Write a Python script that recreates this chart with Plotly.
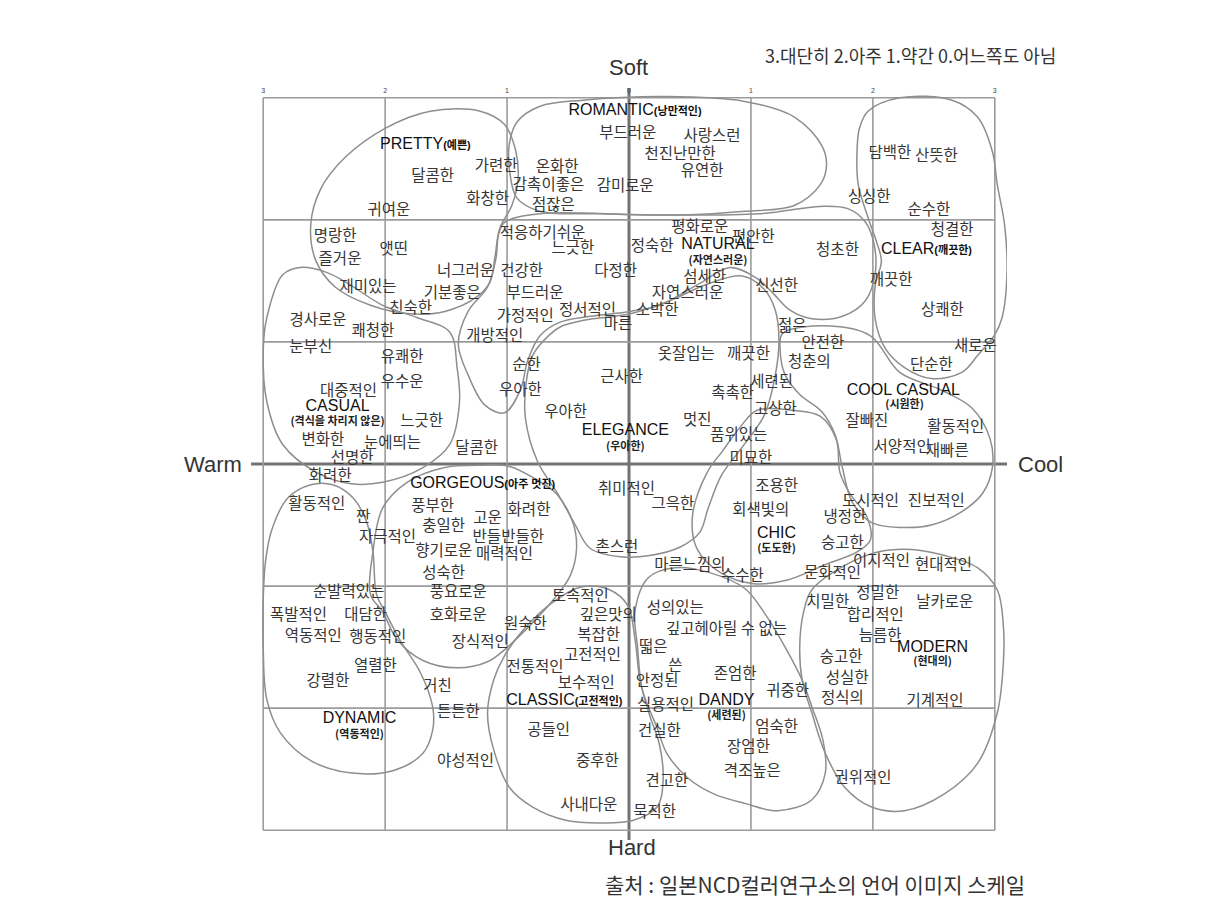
import plotly.graph_objects as go

# ---------------- axis ticks ----------------
tick_vals = [-3, -2, -1, 0, 1, 2, 3]
tick_text = ["3", "2", "1", "0", "1", "2", "3"]

# ---------------- words (text, warm(-)/cool(+), hard(-)/soft(+)) ----------------
words_pretty = [
    ("달콤한", -1.61, 2.35), ("가련한", -1.09, 2.43), ("화창한", -1.16, 2.16),
    ("귀여운", -1.97, 2.07), ("명랑한", -2.41, 1.86), ("앳띤", -1.93, 1.75),
    ("즐거운", -2.37, 1.67), ("너그러운", -1.34, 1.57), ("재미있는", -2.14, 1.44),
    ("기분좋은", -1.45, 1.39), ("친숙한", -1.79, 1.27), ("경사로운", -2.55, 1.17),
    ("쾌청한", -2.10, 1.08), ("눈부신", -2.61, 0.95),
]
words_romantic = [
    ("부드러운", -0.01, 2.70), ("사랑스런", 0.68, 2.68), ("천진난만한", 0.42, 2.53),
    ("유연한", 0.60, 2.39), ("온화한", -0.59, 2.42), ("감촉이좋은", -0.66, 2.28),
    ("감미로운", -0.03, 2.27), ("점잖은", -0.62, 2.11),
]
words_natural = [
    ("적응하기쉬운", -0.71, 1.88), ("느긋한", -0.46, 1.76), ("정숙한", 0.19, 1.78),
    ("평화로운", 0.58, 1.93), ("편안한", 1.02, 1.85), ("건강한", -0.88, 1.57),
    ("다정한", -0.11, 1.57), ("섬세한", 0.62, 1.52), ("부드러운", -0.77, 1.39),
    ("자연스러운", 0.48, 1.39), ("정서적인", -0.34, 1.25), ("소박한", 0.23, 1.25),
    ("가정적인", -0.85, 1.20), ("마른", -0.09, 1.14), ("개방적인", -1.10, 1.04),
    ("청초한", 1.71, 1.74), ("신선한", 1.21, 1.45), ("젊은", 1.34, 1.12),
]
words_clear = [
    ("담백한", 2.14, 2.54), ("산뜻한", 2.52, 2.51), ("싱싱한", 1.97, 2.18),
    ("순수한", 2.46, 2.07), ("청결한", 2.65, 1.91), ("깨끗한", 2.15, 1.50),
    ("상쾌한", 2.57, 1.25), ("새로운", 2.84, 0.96), ("단순한", 2.48, 0.80),
]
words_casual = [
    ("유쾌한", -1.86, 0.87), ("대중적인", -2.30, 0.59), ("우수운", -1.86, 0.66),
    ("느긋한", -1.70, 0.34), ("변화한", -2.51, 0.19), ("눈에띄는", -1.94, 0.16),
    ("달콤한", -1.25, 0.12), ("선명한", -2.27, 0.04), ("화려한", -2.45, -0.11),
]
words_gorgeous = [
    ("활동적인", -2.56, -0.34), ("짠", -2.18, -0.44), ("풍부한", -1.61, -0.35),
    ("충일한", -1.52, -0.52), ("고운", -1.16, -0.45), ("화려한", -0.82, -0.39),
    ("자극적인", -1.98, -0.61), ("반들반들한", -0.99, -0.61), ("향기로운", -1.52, -0.72),
    ("매력적인", -1.02, -0.75), ("성숙한", -1.52, -0.90),
]
words_elegance = [
    ("순한", -0.84, 0.80), ("우아한", -0.89, 0.60), ("우아한", -0.52, 0.42),
    ("근사한", -0.06, 0.70), ("옷잘입는", 0.47, 0.89), ("깨끗한", 0.98, 0.89),
    ("멋진", 0.56, 0.35), ("촉촉한", 0.85, 0.57), ("품위있는", 0.90, 0.23),
    ("미묘한", 1.00, 0.04), ("취미적인", -0.02, -0.21), ("그윽한", 0.36, -0.34),
    ("촌스런", -0.10, -0.69), ("마른느낌의", 0.50, -0.84), ("수수한", 0.93, -0.93),
]
words_coolcasual = [
    ("안전한", 1.59, 0.98), ("청춘의", 1.48, 0.83), ("세련된", 1.17, 0.66),
    ("고상한", 1.20, 0.44), ("잘빠진", 1.95, 0.34), ("활동적인", 2.68, 0.29),
    ("서양적인", 2.24, 0.13), ("재빠른", 2.61, 0.10),
]
words_chic = [
    ("조용한", 1.21, -0.19), ("도시적인", 1.98, -0.31), ("진보적인", 2.52, -0.31),
    ("회색빛의", 1.08, -0.39), ("냉정한", 1.77, -0.44), ("숭고한", 1.75, -0.66),
    ("이지적인", 2.07, -0.80), ("현대적인", 2.58, -0.84), ("문화적인", 1.67, -0.90),
]
words_dynamic = [
    ("순발력있는", -2.30, -1.06), ("풍요로운", -1.40, -1.06), ("폭발적인", -2.71, -1.25),
    ("대담한", -2.16, -1.25), ("호화로운", -1.40, -1.25), ("역동적인", -2.59, -1.42),
    ("행동적인", -2.06, -1.43), ("장식적인", -1.22, -1.47), ("열렬한", -2.08, -1.66),
    ("강렬한", -2.47, -1.79), ("거친", -1.57, -1.83), ("튼튼한", -1.40, -2.04),
    ("야성적인", -1.34, -2.44),
]
words_classic = [
    ("토속적인", -0.40, -1.09), ("원숙한", -0.85, -1.32), ("깊은맛의", -0.17, -1.25),
    ("복잡한", -0.25, -1.41), ("고전적인", -0.30, -1.57), ("전통적인", -0.77, -1.67),
    ("보수적인", -0.35, -1.80), ("공들인", -0.66, -2.19), ("중후한", -0.26, -2.44),
    ("사내다운", -0.33, -2.80), ("묵직한", 0.21, -2.86), ("견고한", 0.31, -2.61),
]
words_dandy = [
    ("성의있는", 0.38, -1.19), ("깊고헤아릴 수 없는", 0.80, -1.36), ("떫은", 0.20, -1.51),
    ("쓴", 0.38, -1.66), ("존엄한", 0.87, -1.73), ("안정된", 0.23, -1.79),
    ("실용적인", 0.30, -1.98), ("건실한", 0.25, -2.20), ("장엄한", 0.98, -2.33),
    ("격조높은", 1.01, -2.52), ("엄숙한", 1.21, -2.16), ("귀중한", 1.30, -1.87),
]
words_modern = [
    ("치밀한", 1.63, -1.14), ("정밀한", 2.04, -1.07), ("날카로운", 2.59, -1.14),
    ("합리적인", 2.02, -1.25), ("늠름한", 2.06, -1.42), ("숭고한", 1.74, -1.59),
    ("성실한", 1.79, -1.76), ("정식의", 1.75, -1.93), ("기계적인", 2.51, -1.95),
    ("권위적인", 1.92, -2.58),
]

# ---------------- category labels ----------------
cat_inline = [
    ("PRETTY", "(예쁜)", -1.67, 2.61),
    ("ROMANTIC", "(낭만적인)", 0.05, 2.89),
    ("CLEAR", "(깨끗한)", 2.44, 1.75),
    ("GORGEOUS", "(아주 멋진)", -1.20, -0.16),
    ("CLASSIC", "(고전적인)", -0.53, -1.94),
]
cat_stacked = [
    ("NATURAL", 0.73, 1.79), ("CASUAL", -2.39, 0.47), ("ELEGANCE", -0.03, 0.27),
    ("COOL CASUAL", 2.25, 0.60), ("CHIC", 1.21, -0.57), ("MODERN", 2.49, -1.51),
    ("DANDY", 0.80, -1.94), ("DYNAMIC", -2.21, -2.09),
]
cat_sub = [
    ("(자연스러운)", 0.73, 1.66), ("(격식을 차리지 않은)", -2.39, 0.34), ("(우아한)", -0.03, 0.14),
    ("(시원한)", 2.26, 0.48), ("(도도한)", 1.21, -0.70), ("(현대의)", 2.49, -1.62),
    ("(세련된)", 0.80, -2.07), ("(역동적인)", -2.21, -2.22),
]

# ---------------- group outlines ----------------
blob_pretty_x = [-1.22, -1.63, -2.00, -2.33, -2.53, -2.61, -2.57, -2.41, -2.12, -1.80,
                 -1.51, -1.26, -1.14, -1.10, -1.06, -0.96, -0.91, -0.93, -1.02]
blob_pretty_y = [2.89, 2.89, 2.75, 2.51, 2.25, 1.96, 1.67, 1.45, 1.30, 1.23,
                 1.25, 1.36, 1.49, 1.69, 1.93, 2.12, 2.33, 2.57, 2.78]
blob_romantic_x = [-0.92, -0.73, -0.38, 0.31, 0.95, 1.36, 1.58, 1.62, 1.57, 1.36,
                   0.95, 0.42, -0.24, -0.73, -0.92, -0.98, -0.98]
blob_romantic_y = [2.80, 2.93, 2.98, 3.01, 2.97, 2.84, 2.61, 2.45, 2.29, 2.12,
                   2.07, 2.04, 2.05, 2.07, 2.18, 2.41, 2.63]
blob_clear_x = [1.96, 2.22, 2.65, 2.86, 2.98, 3.02, 3.08, 3.10, 3.06, 3.00, 2.86, 2.73,
                2.48, 2.26, 2.10, 2.02, 2.02, 2.07, 2.03, 1.96, 1.88, 1.87, 1.89]
blob_clear_y = [2.89, 3.00, 2.98, 2.84, 2.56, 2.29, 1.96, 1.57, 1.20, 1.06, 0.89, 0.75,
                0.70, 0.79, 0.95, 1.18, 1.47, 1.66, 1.82, 2.02, 2.29, 2.56, 2.75]
blob_natural_x = [-1.02, -0.73, 0.17, 1.07, 1.57, 1.80, 1.94, 2.01, 2.02, 1.94, 1.75, 1.50,
                  1.32, 1.18, 1.05, 0.83, 0.58, 0.25, 0.01, -0.32, -0.57, -0.73, -0.83,
                  -0.89, -1.02, -1.18, -1.32, -1.40, -1.32, -1.16, -1.09, -1.07]
blob_natural_y = [1.98, 2.05, 2.04, 2.05, 2.11, 2.09, 1.98, 1.80, 1.57, 1.34, 1.21, 1.19,
                  1.26, 1.40, 1.52, 1.61, 1.48, 1.30, 1.25, 1.21, 1.16, 1.05, 0.85,
                  0.61, 0.42, 0.48, 0.73, 0.98, 1.25, 1.45, 1.69, 1.88]
blob_elegance_x = [-0.65, -0.79, -0.84, -0.85, -0.75, -0.58, -0.44, -0.32, -0.07, 0.17,
                   0.42, 0.58, 0.65, 0.76, 0.93, 1.11, 1.20, 1.23, 1.20, 1.11, 0.93,
                   0.66, 0.34, 0.01, -0.36, -0.55]
blob_elegance_y = [1.06, 0.89, 0.69, 0.38, 0.02, -0.25, -0.50, -0.69, -0.76, -0.75,
                   -0.68, -0.56, -0.36, -0.09, 0.14, 0.40, 0.73, 1.02, 1.26, 1.43, 1.54,
                   1.48, 1.34, 1.23, 1.18, 1.13]
blob_casual_x = [-2.97, -2.84, -2.70, -2.48, -2.29, -2.02, -1.74, -1.47, -1.41, -1.39,
                 -1.47, -1.69, -2.02, -2.29, -2.56, -2.84, -2.97, -3.00]
blob_casual_y = [1.20, 1.55, 1.61, 1.57, 1.47, 1.30, 1.20, 1.08, 0.79, 0.51,
                 0.16, -0.03, -0.15, -0.16, -0.07, 0.16, 0.51, 0.92]
blob_gorgeous_x = [-2.12, -2.10, -2.02, -1.82, -1.52, -1.20, -0.98, -0.79, -0.59, -0.46,
                   -0.43, -0.48, -0.61, -0.81, -1.02, -1.16, -1.41, -1.69, -1.90, -2.02]
blob_gorgeous_y = [-1.07, -0.72, -0.36, -0.15, -0.03, -0.01, -0.02, -0.11, -0.25, -0.48,
                   -0.69, -0.91, -1.10, -1.32, -1.52, -1.62, -1.67, -1.61, -1.44, -1.21]
blob_classic_x = [-0.40, -0.16, -0.01, 0.05, 0.09, 0.17, 0.25, 0.28, 0.23, 0.03,
                  -0.24, -0.51, -0.79, -0.98, -1.11, -1.16, -1.11, -1.02, -0.85, -0.62]
blob_classic_y = [-1.01, -1.03, -1.16, -1.44, -1.77, -2.06, -2.30, -2.59, -2.81, -2.92,
                  -2.94, -2.92, -2.81, -2.65, -2.34, -2.04, -1.77, -1.57, -1.34, -1.13]
blob_dandy_x = [0.16, 0.38, 0.66, 0.95, 1.11, 1.28, 1.42, 1.50, 1.59, 1.61,
                1.50, 1.22, 0.95, 0.69, 0.48, 0.31, 0.23, 0.11, 0.07, 0.05]
blob_dandy_y = [-0.93, -0.85, -0.89, -1.02, -1.22, -1.50, -1.77, -1.99, -2.26, -2.53,
                -2.75, -2.84, -2.78, -2.70, -2.57, -2.37, -2.16, -1.85, -1.50, -1.20]
blob_chic_x = [1.05, 1.34, 1.57, 1.70, 1.73, 1.81, 1.95, 1.98, 1.87, 1.62,
               1.30, 1.02, 0.75, 0.56, 0.52, 0.64, 0.77, 0.91]
blob_chic_y = [0.44, 0.44, 0.39, 0.20, -0.07, -0.24, -0.43, -0.62, -0.72, -0.82,
               -0.95, -0.98, -0.89, -0.70, -0.43, -0.07, 0.11, 0.30]
blob_coolcasual_x = [1.26, 1.65, 1.98, 2.22, 2.55, 2.81, 2.96, 2.98, 2.90, 2.73,
                     2.48, 2.24, 1.99, 1.83, 1.75, 1.69, 1.58, 1.40, 1.28, 1.24]
blob_coolcasual_y = [1.07, 1.13, 1.05, 0.75, 0.61, 0.46, 0.21, -0.03, -0.24, -0.39,
                     -0.50, -0.52, -0.48, -0.31, -0.03, 0.24, 0.43, 0.57, 0.73, 0.93]
blob_modern_x = [1.50, 1.77, 2.04, 2.32, 2.59, 2.86, 3.02, 3.07, 3.07, 3.02,
                 2.86, 2.59, 2.26, 1.99, 1.77, 1.61, 1.50, 1.42, 1.40, 1.43]
blob_modern_y = [-1.03, -0.83, -0.72, -0.70, -0.75, -0.85, -1.03, -1.32, -1.63, -2.04,
                 -2.45, -2.70, -2.84, -2.81, -2.65, -2.37, -2.04, -1.77, -1.50, -1.22]
blob_dynamic_x = [-2.98, -2.93, -2.80, -2.61, -2.43, -2.26, -2.15, -2.10, -2.07, -2.00, -1.88,
                  -1.71, -1.61, -1.61, -1.69, -1.93, -2.29, -2.61, -2.86, -2.97, -3.00, -3.00]
blob_dynamic_y = [-0.79, -0.54, -0.28, -0.17, -0.17, -0.28, -0.48, -0.72, -1.07, -1.21, -1.44,
                  -1.71, -1.99, -2.18, -2.37, -2.51, -2.53, -2.43, -2.20, -1.93, -1.50, -1.11]

blobs = [
    (blob_pretty_x, blob_pretty_y), (blob_romantic_x, blob_romantic_y),
    (blob_clear_x, blob_clear_y), (blob_natural_x, blob_natural_y),
    (blob_elegance_x, blob_elegance_y), (blob_casual_x, blob_casual_y),
    (blob_gorgeous_x, blob_gorgeous_y), (blob_classic_x, blob_classic_y),
    (blob_dandy_x, blob_dandy_y), (blob_chic_x, blob_chic_y),
    (blob_coolcasual_x, blob_coolcasual_y), (blob_modern_x, blob_modern_y),
    (blob_dynamic_x, blob_dynamic_y),
]
word_groups = [words_pretty, words_romantic, words_natural, words_clear, words_casual,
               words_gorgeous, words_elegance, words_coolcasual, words_chic,
               words_dynamic, words_classic, words_dandy, words_modern]

KR = "Noto Sans CJK KR"
EN = "Liberation Sans, Arial, Noto Sans CJK KR"

fig = go.Figure()

# grid (border and inner lines) and heavy centre axes
GRID = "#9b9b9b"
for v in tick_vals:
    if v == 0:
        continue
    fig.add_shape(type="line", xref="x", yref="y", x0=v, x1=v, y0=-3, y1=3,
                  line=dict(color=GRID, width=1.6), layer="below")
    fig.add_shape(type="line", xref="x", yref="y", x0=-3, x1=3, y0=v, y1=v,
                  line=dict(color=GRID, width=1.6), layer="below")
fig.add_shape(type="line", xref="x", yref="paper", x0=0, x1=0, y0=0, y1=1,
              line=dict(color="#737373", width=3), layer="below")
fig.add_shape(type="line", xref="paper", yref="y", x0=0, x1=1, y0=0, y1=0,
              line=dict(color="#737373", width=3), layer="below")

# outlines
for bx, by in blobs:
    fig.add_trace(go.Scatter(
        x=bx + [bx[0]], y=by + [by[0]], mode="lines",
        line=dict(color="#8e8e8e", width=1.5, shape="spline", smoothing=1.0),
        hoverinfo="skip", showlegend=False))

# words
for grp in word_groups:
    fig.add_trace(go.Scatter(
        x=[w[1] for w in grp], y=[w[2] for w in grp], text=[w[0] for w in grp],
        mode="text", textposition="middle center",
        textfont=dict(family=KR, size=15.5, color="#363636"),
        hoverinfo="skip", showlegend=False, cliponaxis=False))

# category labels
fig.add_trace(go.Scatter(
    x=[c[2] for c in cat_inline], y=[c[3] for c in cat_inline],
    text=[f"{c[0]}<span style='font-size:11px'><b>{c[1]}</b></span>" for c in cat_inline],
    mode="text", textfont=dict(family=EN, size=16, color="#111111"),
    hoverinfo="skip", showlegend=False, cliponaxis=False))
fig.add_trace(go.Scatter(
    x=[c[1] for c in cat_stacked], y=[c[2] for c in cat_stacked],
    text=[c[0] for c in cat_stacked],
    mode="text", textfont=dict(family=EN, size=16, color="#111111"),
    hoverinfo="skip", showlegend=False, cliponaxis=False))
fig.add_trace(go.Scatter(
    x=[c[1] for c in cat_sub], y=[c[2] for c in cat_sub],
    text=[f"<b>{c[0]}</b>" for c in cat_sub],
    mode="text", textfont=dict(family=KR, size=11, color="#222222"),
    hoverinfo="skip", showlegend=False, cliponaxis=False))

# small scale numbers above the grid
fig.add_trace(go.Scatter(
    x=tick_vals, y=[3.05] * len(tick_vals), text=tick_text, mode="text",
    textfont=dict(family=EN, size=7, color="#444444"),
    hoverinfo="skip", showlegend=False, cliponaxis=False))

ann_font = dict(family=EN, size=22, color="#333333")
C = dict(xref="paper", yref="paper", showarrow=False, xanchor="center", yanchor="middle")
annotations = [
    dict(text="Soft", x=0.4987, y=1.0266, font=ann_font, **C),
    dict(text="Hard", x=0.504, y=-0.0106, font=ann_font, **C),
    dict(text="Warm", x=-0.0503, y=0.4987, font=ann_font, **C),
    dict(text="Cool", x=1.0437, y=0.4987, font=ann_font, **C),
    dict(text="출처 : 일본NCD컬러연구소의 언어 이미지 스케일", x=0.746, y=-0.0585,
         font=dict(family=KR, size=21, color="#333333"), **C),
    dict(text="3.대단히 2.아주 1.약간 0.어느쪽도 아님", x=1.0675, y=1.0439,
         xref="paper", yref="paper", showarrow=False, xanchor="right", yanchor="middle",
         font=dict(family=KR, size=18, color="#333333")),
]

fig.update_layout(
    width=1222, height=920,
    margin=dict(l=251, r=215, t=88, b=80),
    paper_bgcolor="white", plot_bgcolor="white",
    xaxis=dict(range=[-3.1, 3.1], showgrid=False, zeroline=False, showline=False,
               showticklabels=False, ticks="", fixedrange=True),
    yaxis=dict(range=[-3.08, 3.08], showgrid=False, zeroline=False, showline=False,
               showticklabels=False, ticks="", fixedrange=True),
    annotations=annotations,
    showlegend=False,
)

fig.write_html("out.html")
